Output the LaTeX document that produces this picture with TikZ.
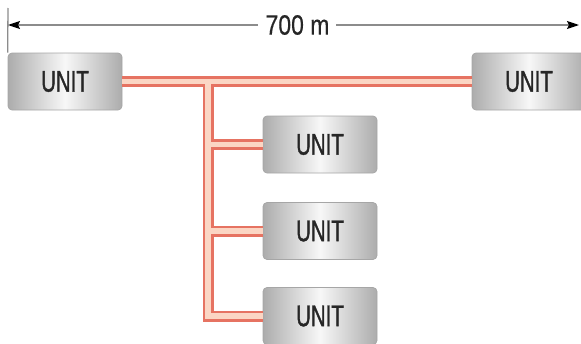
\documentclass[tikz,border=0pt]{standalone}
\usepackage{fontspec}
\setmainfont{Liberation Sans}
\newfontfamily\condfont[FakeStretch=0.68,FakeBold=1.2]{Liberation Sans}
\newfontfamily\dimfont[FakeStretch=0.82,FakeBold=0.4]{Liberation Sans}
\usetikzlibrary{arrows.meta}
\definecolor{pipered}{RGB}{230,115,98}
\definecolor{pipefill}{RGB}{251,214,196}
\definecolor{dimgray}{RGB}{140,140,140}
\tikzset{
  unitbox/.style={rectangle, rounded corners=4pt, draw=gray!70, line width=0.7pt,
    minimum width=114pt, minimum height=57pt, inner sep=0pt,
    left color=gray!65, right color=gray!65, middle color=gray!6,
    font=\condfont\fontsize{30}{30}\selectfont, text=black!85},
  pipeout/.style={draw=pipered, line width=11pt},
  pipein/.style={draw=pipefill, line width=5.5pt},
  dimline/.style={draw=dimgray, line width=1.3pt},
  dimarrow/.style={-{Stealth[length=12pt,width=8pt,inset=2pt,color=black]}, dimgray, line width=1.3pt}
}
\begin{document}
\begin{tikzpicture}[x=1pt,y=-1pt]
\useasboundingbox (0,0) rectangle (581,343);
\begin{scope}
\clip (0,0) rectangle (581,343);
% units
\node[unitbox] (L)  at (65,81.5) {UNIT};
\node[unitbox] (R)  at (529,81.5) {UNIT};
\node[unitbox] (M1) at (320,144.5) {UNIT};
\node[unitbox] (M2) at (320,231) {UNIT};
\node[unitbox] (M3) at (320,316) {UNIT};
% junction
\coordinate (J) at (208,81.5);
% pipes: outer
\draw[pipeout] (L.east) -- (R.west);
\draw[pipeout] (J) |- (M3.west);
\draw[pipeout] (J |- M1.west) -- (M1.west);
\draw[pipeout] (J |- M2.west) -- (M2.west);
% pipes: inner
\draw[pipein] (L.east) -- (R.west);
\draw[pipein] (J) |- (M3.west);
\draw[pipein] (J |- M1.west) -- (M1.west);
\draw[pipein] (J |- M2.west) -- (M2.west);
% dimension
\coordinate (tickT) at (8,8);
\draw[dimline] (tickT) -- (L.north west);
\coordinate (dimL) at (8,25);
\coordinate (dimR) at (579,25);
\node[font=\dimfont\fontsize{28}{28}\selectfont, text=black!85, inner sep=0pt] (dimtxt) at (297.5,25) {700 m};
\coordinate (gapL) at (258,25);
\coordinate (gapR) at (336,25);
\draw[dimarrow] (gapL) -- (dimL);
\draw[dimarrow] (gapR) -- (dimR);
\end{scope}
\end{tikzpicture}
\end{document}
